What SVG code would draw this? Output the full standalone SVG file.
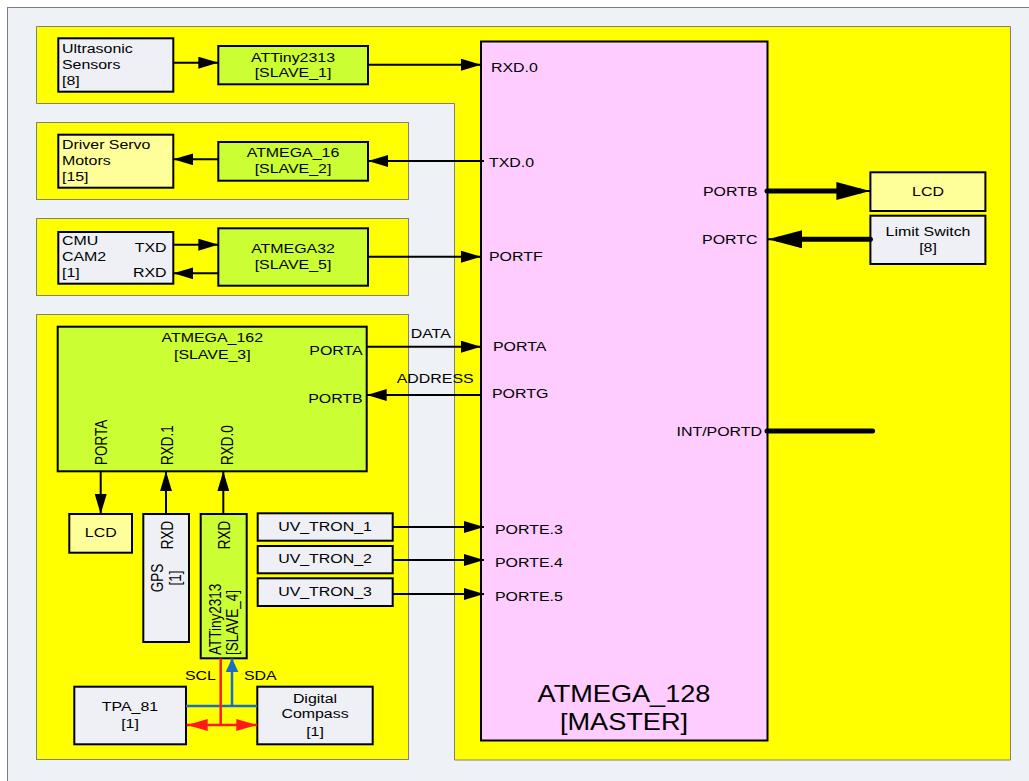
<svg xmlns="http://www.w3.org/2000/svg" width="1029" height="781" viewBox="0 0 1029 781">
<style>
.t{font-family:"Liberation Sans",Arial,sans-serif;font-size:13.5px;fill:#000}
.big{font-size:23px}
.m{text-anchor:middle}
.e{text-anchor:end}
.zone{fill:#ffff00;stroke:#808080;stroke-width:1}
.box{stroke:#000;stroke-width:2}
.g{fill:#eef0f5}
.y{fill:#ffff99}
.gr{fill:#ccff33}
.pk{fill:#ffccff}
.ln{fill:none;stroke:#000;stroke-width:2}
.thk{fill:none;stroke:#000;stroke-width:5;stroke-linecap:round}
</style>
<defs>
<marker id="a" markerUnits="userSpaceOnUse" markerWidth="20" markerHeight="12" refX="20" refY="6" orient="auto"><path d="M0,0L20,6L0,12z" fill="#000"/></marker>
<marker id="ab" markerUnits="userSpaceOnUse" markerWidth="34" markerHeight="18" refX="34" refY="9" orient="auto"><path d="M0,0L34,9L0,18z" fill="#000"/></marker>
<marker id="ar" markerUnits="userSpaceOnUse" markerWidth="21" markerHeight="12" refX="21" refY="6" orient="auto-start-reverse"><path d="M0,0L21,6L0,12z" fill="#ff1a1a"/></marker>
<marker id="abl" markerUnits="userSpaceOnUse" markerWidth="14" markerHeight="13" refX="14" refY="6.5" orient="auto"><path d="M0,0L14,6.5L0,13z" fill="#1a6fc4"/></marker>
</defs>
<rect x="7.5" y="7.5" width="1030" height="790" fill="#eef1f5" stroke="#7f7f7f"/>
<g id="zones">
<path class="zone" d="M36.5,26.5H1010.5V760H454.5V103.5H36.5Z"/>
<rect class="zone" x="36.5" y="122.5" width="372" height="77"/>
<rect class="zone" x="36.5" y="218.5" width="372" height="77"/>
<rect class="zone" x="36.5" y="314.5" width="372" height="445"/>
</g>
<g id="master">
<rect class="box pk" x="481" y="41.5" width="286.5" height="699"/>
<text class="t" transform="translate(491,72) scale(1.18,1)">RXD.0</text>
<text class="t" transform="translate(489,167) scale(1.18,1)">TXD.0</text>
<text class="t" transform="translate(489,261) scale(1.18,1)">PORTF</text>
<text class="t e" transform="translate(757.5,196) scale(1.18,1)">PORTB</text>
<text class="t e" transform="translate(757.5,244) scale(1.18,1)">PORTC</text>
<text class="t" transform="translate(493,351) scale(1.18,1)">PORTA</text>
<text class="t" transform="translate(492,398) scale(1.18,1)">PORTG</text>
<text class="t e" transform="translate(762,435.5) scale(1.18,1)">INT/PORTD</text>
<text class="t" transform="translate(495,534) scale(1.18,1)">PORTE.3</text>
<text class="t" transform="translate(495,567) scale(1.18,1)">PORTE.4</text>
<text class="t" transform="translate(495,601) scale(1.18,1)">PORTE.5</text>
<text class="t big m" transform="translate(624,701.5) scale(1.18,1)"><tspan x="0">ATMEGA_128</tspan><tspan x="0" dy="28.5">[MASTER]</tspan></text>
</g>
<g id="ultrasonic">
<rect class="box g" x="58.3" y="38.3" width="115" height="53.4"/>
<text class="t" transform="translate(62,53) scale(1.18,1)"><tspan x="0">Ultrasonic</tspan><tspan x="0" dy="16">Sensors</tspan><tspan x="0" dy="16">[8]</tspan></text>
</g>
<g id="slave1">
<rect class="box gr" x="218.3" y="46" width="149.7" height="38.3"/>
<text class="t m" transform="translate(293,61.5) scale(1.18,1)"><tspan x="0">ATTiny2313</tspan><tspan x="0" dy="16">[SLAVE_1]</tspan></text>
</g>
<g id="servo">
<rect class="box y" x="58.3" y="134.7" width="115" height="53"/>
<text class="t" transform="translate(62,149) scale(1.18,1)"><tspan x="0">Driver Servo</tspan><tspan x="0" dy="16">Motors</tspan><tspan x="0" dy="16">[15]</tspan></text>
</g>
<g id="slave2">
<rect class="box gr" x="218.3" y="142" width="149.7" height="38.7"/>
<text class="t m" transform="translate(293,157.3) scale(1.18,1)"><tspan x="0">ATMEGA_16</tspan><tspan x="0" dy="16">[SLAVE_2]</tspan></text>
</g>
<g id="cmucam">
<rect class="box g" x="58.3" y="232" width="115" height="51.7"/>
<text class="t" transform="translate(62,245) scale(1.18,1)"><tspan x="0">CMU</tspan><tspan x="0" dy="16">CAM2</tspan><tspan x="0" dy="16">[1]</tspan></text>
<text class="t e" transform="translate(166.5,252) scale(1.18,1)">TXD</text>
<text class="t e" transform="translate(166.5,276.7) scale(1.18,1)">RXD</text>
</g>
<g id="slave5">
<rect class="box gr" x="218.3" y="228.3" width="149.7" height="57.4"/>
<text class="t m" transform="translate(293,253.3) scale(1.18,1)"><tspan x="0">ATMEGA32</tspan><tspan x="0" dy="16">[SLAVE_5]</tspan></text>
</g>
<g id="lcd-right">
<rect class="box y" x="870.4" y="172.3" width="115" height="38.7"/>
<text class="t m" transform="translate(928,196) scale(1.18,1)">LCD</text>
</g>
<g id="limit-switch">
<rect class="box g" x="870.4" y="215.7" width="115" height="48.3"/>
<text class="t m" transform="translate(928,236) scale(1.18,1)"><tspan x="0">Limit Switch</tspan><tspan x="0" dy="16.3">[8]</tspan></text>
</g>
<g id="slave3">
<rect class="box gr" x="57.7" y="326.7" width="309" height="144.6"/>
<text class="t m" transform="translate(212.3,341.7) scale(1.18,1)"><tspan x="0">ATMEGA_162</tspan><tspan x="0" dy="17.3">[SLAVE_3]</tspan></text>
<text class="t e" transform="translate(362.7,355) scale(1.18,1)">PORTA</text>
<text class="t e" transform="translate(362.7,402.7) scale(1.18,1)">PORTB</text>
<text class="t" transform="translate(106.5,465) scale(1.18,1) rotate(-90)">PORTA</text>
<text class="t" transform="translate(172.5,465) scale(1.18,1) rotate(-90)">RXD.1</text>
<text class="t" transform="translate(232.5,465) scale(1.18,1) rotate(-90)">RXD.0</text>
</g>
<g id="lcd-left">
<rect class="box y" x="69.3" y="514" width="62.7" height="38.7"/>
<text class="t m" transform="translate(100.7,536.7) scale(1.18,1)">LCD</text>
</g>
<g id="gps">
<rect class="box g" x="143.3" y="514" width="45.7" height="128"/>
<text class="t" transform="translate(172.5,549.3) scale(1.18,1) rotate(-90)">RXD</text>
<text class="t m" transform="translate(163.3,578) scale(1.18,1) rotate(-90)">GPS</text>
<text class="t m" transform="translate(180.5,578) scale(1.18,1) rotate(-90)">[1]</text>
</g>
<g id="slave4">
<rect class="box gr" x="200.7" y="514" width="46" height="144.3"/>
<text class="t" transform="translate(230,549.3) scale(1.18,1) rotate(-90)">RXD</text>
<text class="t" transform="translate(221,655) scale(1.18,1) rotate(-90)">ATTiny2313</text>
<text class="t" transform="translate(238,655) scale(1.18,1) rotate(-90)">[SLAVE_4]</text>
</g>
<g id="uvtron1">
<rect class="box g" x="257.7" y="513.3" width="135" height="27.4"/>
<text class="t m" transform="translate(325,530.7) scale(1.18,1)">UV_TRON_1</text>
</g>
<g id="uvtron2">
<rect class="box g" x="257.7" y="546" width="135" height="27.3"/>
<text class="t m" transform="translate(325,563.3) scale(1.18,1)">UV_TRON_2</text>
</g>
<g id="uvtron3">
<rect class="box g" x="257.7" y="578.3" width="135" height="27.7"/>
<text class="t m" transform="translate(325,596) scale(1.18,1)">UV_TRON_3</text>
</g>
<g id="tpa81">
<rect class="box g" x="74.3" y="686.7" width="111.7" height="57.6"/>
<text class="t m" transform="translate(130,710.7) scale(1.18,1)"><tspan x="0">TPA_81</tspan><tspan x="0" dy="17.6">[1]</tspan></text>
</g>
<g id="compass">
<rect class="box g" x="257.3" y="686.7" width="115.4" height="57.6"/>
<text class="t m" transform="translate(315,702.7) scale(1.18,1)"><tspan x="0">Digital</tspan><tspan x="0" dy="15.8">Compass</tspan><tspan x="0" dy="17.5">[1]</tspan></text>
</g>
<g id="connectors">
<path class="ln" d="M173.3,62.7H218.3" marker-end="url(#a)"/>
<path class="ln" d="M368,64.7H481" marker-end="url(#a)"/>
<path class="ln" d="M218.3,159.3H173.3" marker-end="url(#a)"/>
<path class="ln" d="M484,161H368" marker-end="url(#a)"/>
<path class="ln" d="M173.3,244.7H218.3" marker-end="url(#a)"/>
<path class="ln" d="M218.3,273.3H173.3" marker-end="url(#a)"/>
<path class="ln" d="M368,256.7H481" marker-end="url(#a)"/>
<path class="ln" d="M366.7,346.7H481" marker-end="url(#a)"/>
<path class="ln" d="M481,395H366.7" marker-end="url(#a)"/>
<path class="ln" d="M100.7,471.3V514" marker-end="url(#a)"/>
<path class="ln" d="M166,514V471.3" marker-end="url(#a)"/>
<path class="ln" d="M223.3,514V471.3" marker-end="url(#a)"/>
<path class="ln" d="M392.7,527H484" marker-end="url(#a)"/>
<path class="ln" d="M392.7,560H484" marker-end="url(#a)"/>
<path class="ln" d="M392.7,594H484" marker-end="url(#a)"/>
<path class="thk" d="M767,191H860" />
<path class="ln" d="M860,191H870.4" marker-end="url(#ab)"/>
<path class="thk" d="M870.4,239.3H778"/>
<path class="ln" d="M778,239.3H768" marker-end="url(#ab)"/>
<path class="thk" d="M767,431H872.6"/>
<path fill="none" stroke="#1a6fc4" stroke-width="2.5" d="M186,706H257.3"/>
<path fill="none" stroke="#1a6fc4" stroke-width="2.5" d="M232,706V658.3" marker-end="url(#abl)"/>
<path fill="none" stroke="#ff1a1a" stroke-width="2.5" d="M220.7,658.3V725"/>
<path fill="none" stroke="#ff1a1a" stroke-width="2.5" d="M186.7,725H257.3" marker-start="url(#ar)" marker-end="url(#ar)"/>
<text class="t" transform="translate(185,680) scale(1.18,1)">SCL</text>
<text class="t" transform="translate(244,680) scale(1.18,1)">SDA</text>
<text class="t" transform="translate(410.7,338.3) scale(1.18,1)">DATA</text>
<text class="t" transform="translate(396.7,383.3) scale(1.18,1)">ADDRESS</text>
</g>
</svg>
